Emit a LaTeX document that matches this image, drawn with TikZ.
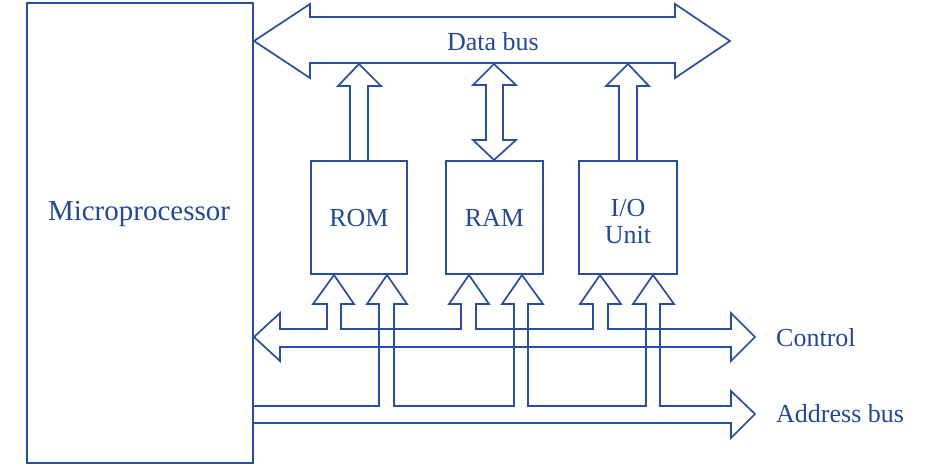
\documentclass[tikz,border=0pt]{standalone}
\usepackage{fontspec}
\setmainfont{Liberation Serif}
\definecolor{busblue}{RGB}{40,78,158}
\definecolor{labelblue}{RGB}{34,72,152}
\tikzset{
  unitbox/.style={draw=busblue, line width=2.3pt, inner sep=0pt},
  busline/.style={draw=busblue, line width=1.7pt, line join=miter},
  lbl/.style={text=labelblue, font=\fontsize{26}{30}\selectfont, inner sep=0pt},
}
\begin{document}
\begin{tikzpicture}[x=1pt, y=-1pt]
  \useasboundingbox (0,0) rectangle (938,466);

  % functional blocks
  \node[unitbox, minimum width=226pt, minimum height=460pt] (cpu) at (140,233) {};
  \node[unitbox, minimum width=96pt, minimum height=113pt] (rom) at (359,217.5) {};
  \node[unitbox, minimum width=97pt, minimum height=113pt] (ram) at (494.5,217.5) {};
  \node[unitbox, minimum width=98pt, minimum height=113pt] (io) at (628,217.5) {};

  % block labels
  \node[lbl, font=\fontsize{29}{34}\selectfont, anchor=base] (cpulbl) at (139,220) {Microprocessor};
  \node[lbl, anchor=base] (romlbl) at (359,226) {ROM};
  \node[lbl, anchor=base] (ramlbl) at (494.5,226) {RAM};
  \node[lbl, anchor=base] (iolbl1) at (628,216) {I/O};
  \node[lbl, anchor=base] (iolbl2) at (628,243) {Unit};

  % data bus (double-headed block arrow)
  \draw[busline] (254,41) -- (310,4) -- (310,17) -- (675,17) -- (675,4) -- (730,41)
    -- (675,78) -- (675,63) -- (310,63) -- (310,78) -- cycle;
  \node[lbl, anchor=base] (datalbl) at (493,50) {Data bus};

  % ROM -> data bus
  \draw[busline] (350,161) -- (350,86) -- (338,86) -- (359,64) -- (381,86) -- (368,86) -- (368,161);
  % RAM <-> data bus
  \draw[busline] (494,64) -- (516,85) -- (503,85) -- (503,140) -- (516,140) -- (494,160)
    -- (473,140) -- (486,140) -- (486,85) -- (473,85) -- cycle;
  % I/O -> data bus
  \draw[busline] (619,161) -- (619,86) -- (606,86) -- (628,64) -- (649,86) -- (637,86) -- (637,161);

  % control bus with branches into each block
  \draw[busline] (254,337) -- (280,313) -- (280,329)
    -- (327,329) -- (327,304) -- (313,304) -- (334,275) -- (354,304) -- (341,304) -- (341,329)
    -- (461,329) -- (461,304) -- (449,304) -- (469,275) -- (489,304) -- (476,304) -- (476,329)
    -- (593,329) -- (593,304) -- (580,304) -- (600,275) -- (621,304) -- (608,304) -- (608,329)
    -- (731,329) -- (731,313) -- (755,337) -- (731,361) -- (731,347)
    -- (280,347) -- (280,361) -- cycle;
  \node[lbl, anchor=base west] (ctrllbl) at (776,346) {Control};

  % address bus with branches into each block
  \draw[busline] (cpu.east |- 0,406)
    -- (379,406) -- (379,304) -- (367,304) -- (387,275) -- (407,304) -- (394,304) -- (394,406)
    -- (514,406) -- (514,304) -- (502,304) -- (522,275) -- (543,304) -- (528,304) -- (528,406)
    -- (646,406) -- (646,304) -- (633,304) -- (653,275) -- (674,304) -- (660,304) -- (660,406)
    -- (731,406) -- (731,391) -- (755,414) -- (731,438) -- (731,423) -- (cpu.east |- 0,423);
  \node[lbl, anchor=base west] (addrlbl) at (776,422) {Address bus};
\end{tikzpicture}
\end{document}
